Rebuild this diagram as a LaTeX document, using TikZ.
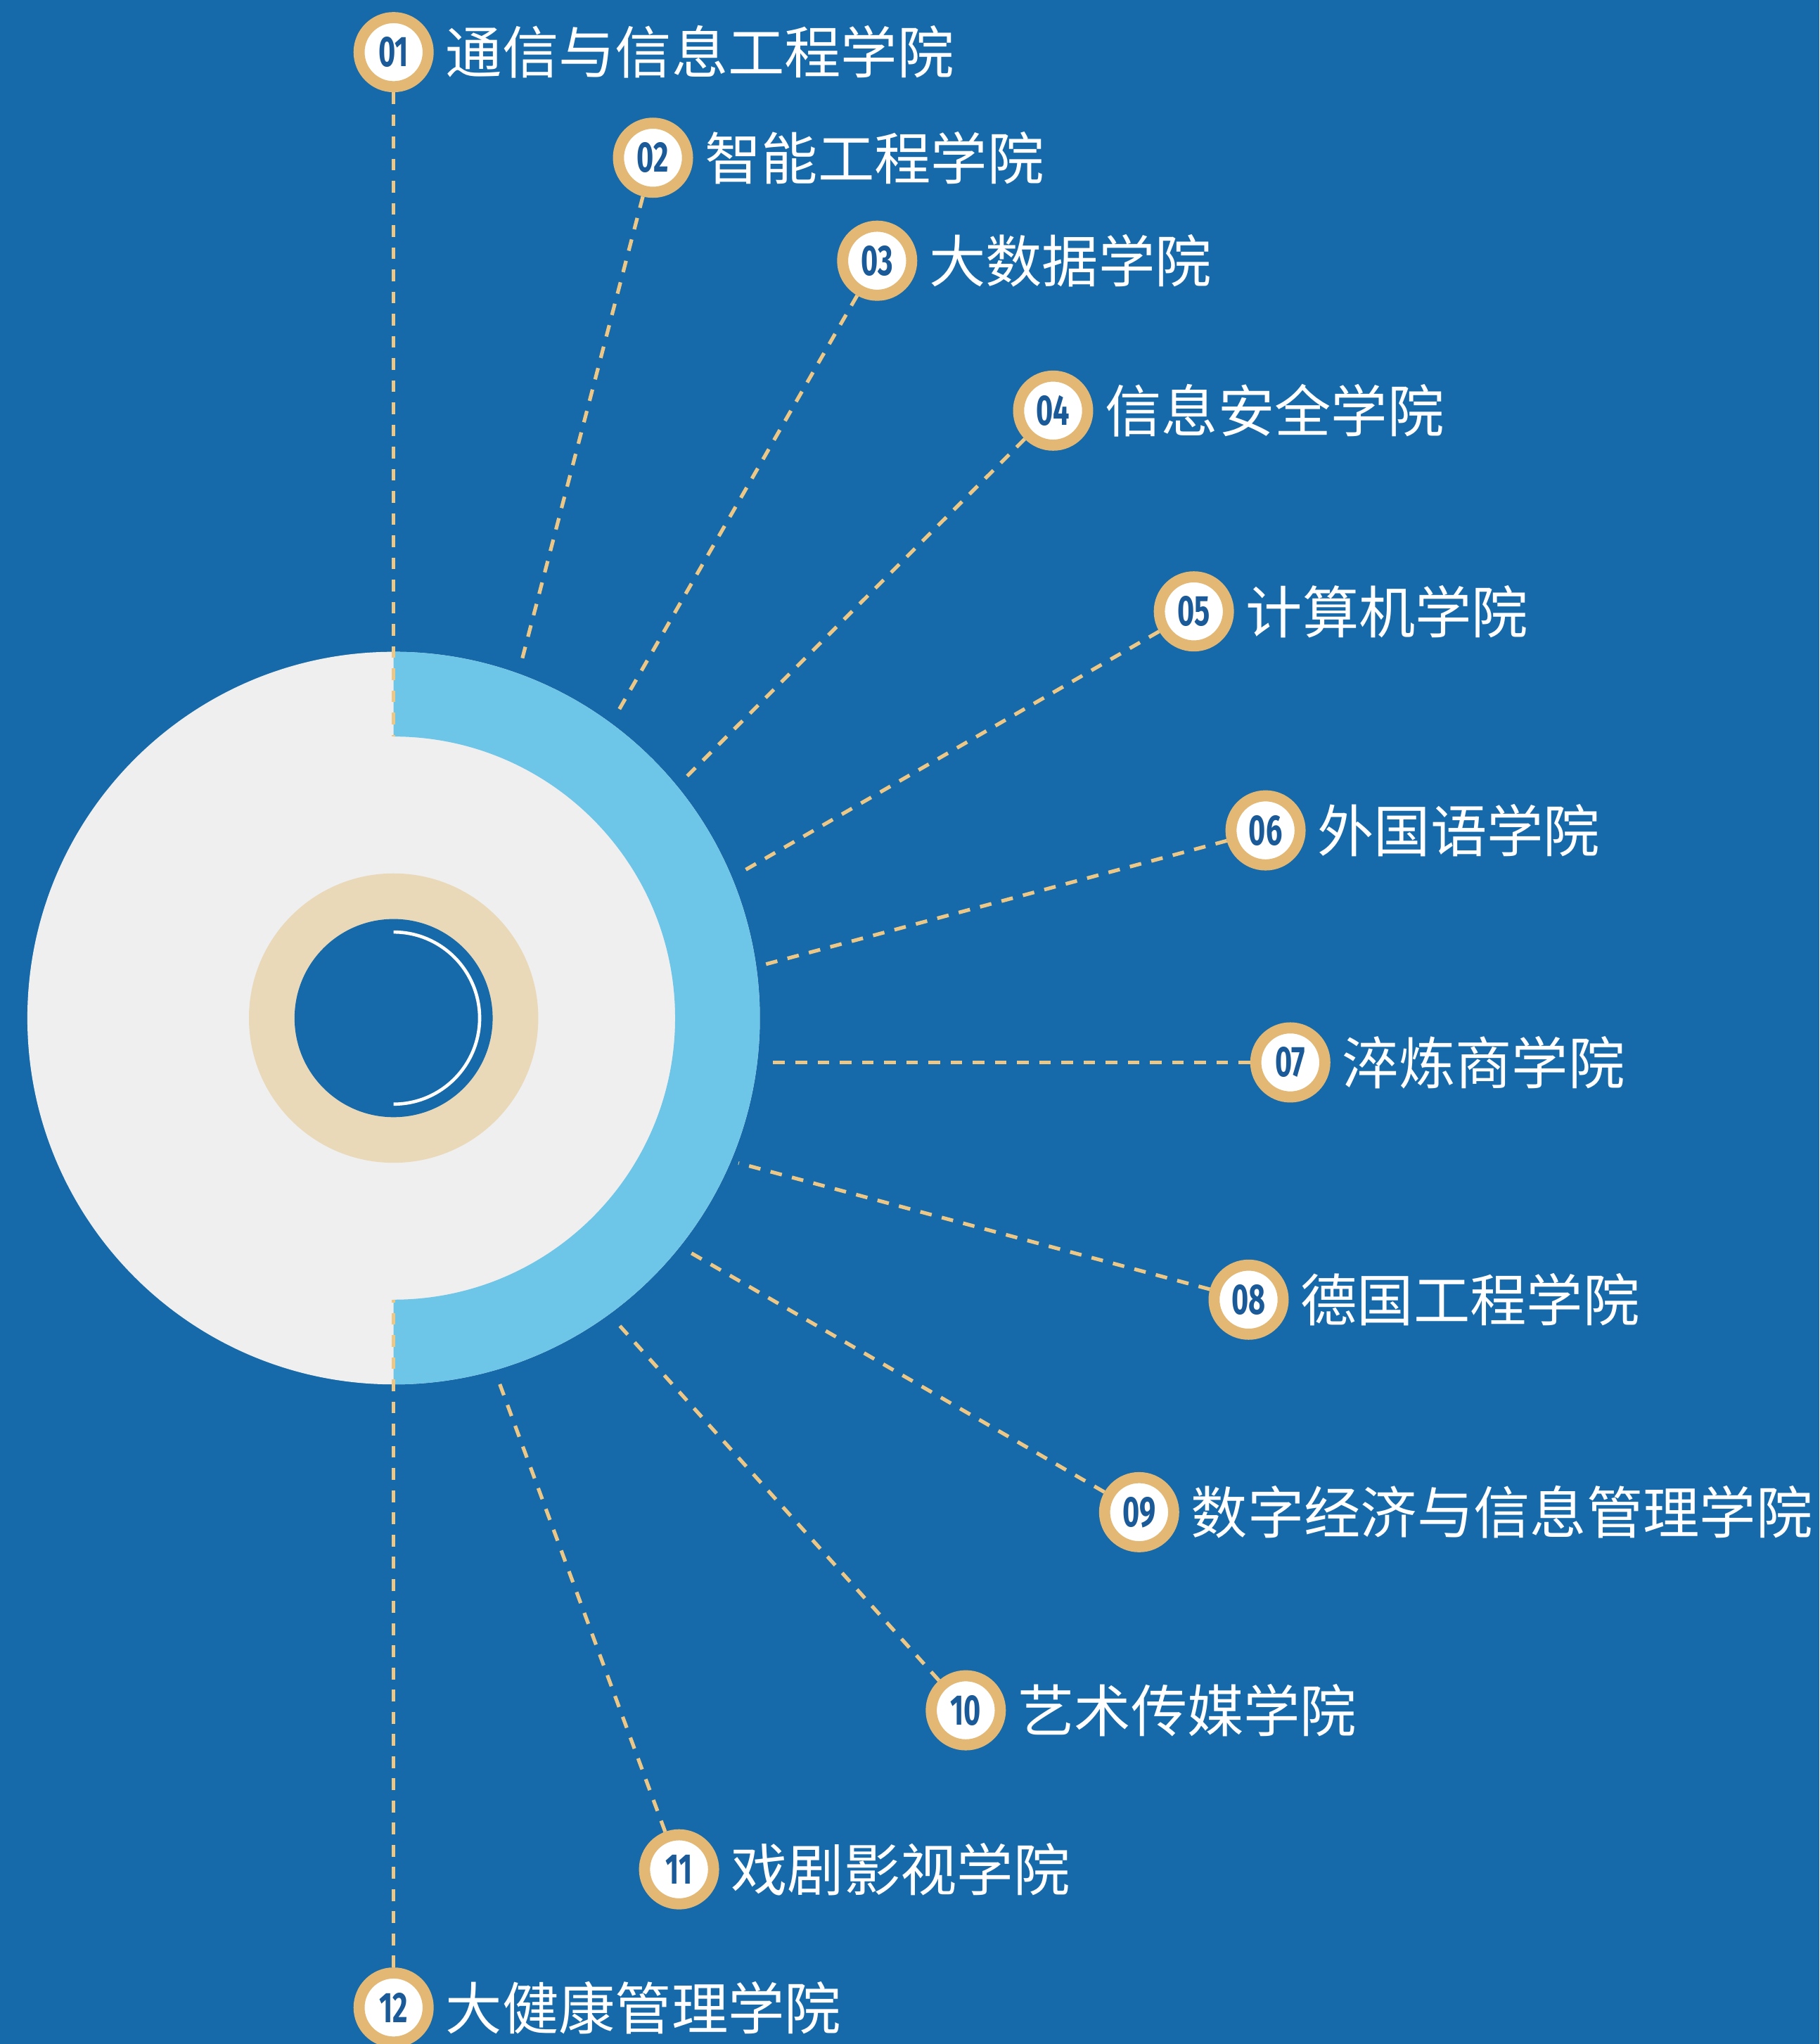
\documentclass[tikz,border=0pt]{standalone}
\usepackage{fontspec}
\usepackage{graphicx}
\newfontfamily\cjkf{Noto Sans CJK SC}
\newfontfamily\numf{Fira Sans}
\usetikzlibrary{calc}
\definecolor{bg}{HTML}{176AAA}
\definecolor{lgray}{HTML}{EFEFEF}
\definecolor{lblue}{HTML}{6DC5E8}
\definecolor{beige}{HTML}{E9D9B9}
\definecolor{gold}{HTML}{E3B874}
\definecolor{dashgold}{HTML}{EDC786}
\definecolor{numblue}{HTML}{1A5A98}
\newcommand{\badgenum}[1]{\scalebox{0.68}[1]{#1}}
\tikzset{
  badge/.style={circle, fill=white, draw=gold, line width=8.5bp, minimum size=53bp,
    inner sep=0pt, text=numblue, font=\numf\bfseries\fontsize{33}{33}\selectfont},
  lbl/.style={anchor=west, inner sep=0pt, text=white, font=\cjkf\fontsize{43.5}{50}\selectfont},
  conn/.style={draw=dashgold, line width=2.8bp, dash pattern=on 9bp off 8bp}
}
\begin{document}
\begin{tikzpicture}[x=1bp, y=-1bp]
\useasboundingbox (0,0) rectangle (1396,1568);
\fill[bg] (0,0) rectangle (1396,1568);
% central disc
\coordinate (c) at (302,781);
\fill[lgray] (c) circle[radius=281];
\fill[lblue] (302,500) arc[start angle=-90, end angle=90, radius=281]
  -- (302,997) arc[start angle=90, end angle=-90, radius=216] -- cycle;
\fill[beige] (c) circle[radius=111];
\fill[bg] (c) circle[radius=76];
\draw[white, line width=2.5bp] (302,715) arc[start angle=-90, end angle=90, radius=66];
% end points of connectors
\coordinate (e01) at (302,565);
\coordinate (e02) at ($(c)+(-70.2:287)$);
\coordinate (e03) at ($(c)+(-53.7:287)$);
\coordinate (e04) at ($(c)+(-39.4:287)$);
\coordinate (e05) at ($(c)+(-22.7:287)$);
\coordinate (e06) at ($(c)+(-8.2:287)$);
\coordinate (e07) at (590,815);
\coordinate (e08) at ($(c)+(22.8:287)$);
\coordinate (e09) at ($(c)+(38.4:287)$);
\coordinate (e10) at ($(c)+(53.8:287)$);
\coordinate (e11) at ($(c)+(73.9:287)$);
\coordinate (e12) at (302,997);
% badges
\node[badge] (b01) at (302,40) {\badgenum{01}};
\node[badge] (b02) at (501,121) {\badgenum{02}};
\node[badge] (b03) at (673,200) {\badgenum{03}};
\node[badge] (b04) at (808,315) {\badgenum{04}};
\node[badge] (b05) at (916,469) {\badgenum{05}};
\node[badge] (b06) at (971,637) {\badgenum{06}};
\node[badge] (b07) at (990,815) {\badgenum{07}};
\node[badge] (b08) at (958,997) {\badgenum{08}};
\node[badge] (b09) at (874,1160) {\badgenum{09}};
\node[badge] (b10) at (741,1312) {\badgenum{10}};
\node[badge] (b11) at (521,1434) {\badgenum{11}};
\node[badge] (b12) at (302,1540) {\badgenum{12}};
% connectors
\foreach \i in {01,02,03,04,05,06,07,08,09,10,11,12}
  \draw[conn] (b\i) -- (e\i);
% labels
\node[lbl] (t01) at ([xshift=9bp]b01.east) {通信与信息工程学院};
\node[lbl] (t02) at ([xshift=9bp]b02.east) {智能工程学院};
\node[lbl] (t03) at ([xshift=9bp]b03.east) {大数据学院};
\node[lbl] (t04) at ([xshift=9bp]b04.east) {信息安全学院};
\node[lbl] (t05) at ([xshift=9bp]b05.east) {计算机学院};
\node[lbl] (t06) at ([xshift=9bp]b06.east) {外国语学院};
\node[lbl] (t07) at ([xshift=9bp]b07.east) {淬炼商学院};
\node[lbl] (t08) at ([xshift=9bp]b08.east) {德国工程学院};
\node[lbl] (t09) at ([xshift=9bp]b09.east) {数字经济与信息管理学院};
\node[lbl] (t10) at ([xshift=9bp]b10.east) {艺术传媒学院};
\node[lbl] (t11) at ([xshift=9bp]b11.east) {戏剧影视学院};
\node[lbl] (t12) at ([xshift=9bp]b12.east) {大健康管理学院};
\end{tikzpicture}
\end{document}
